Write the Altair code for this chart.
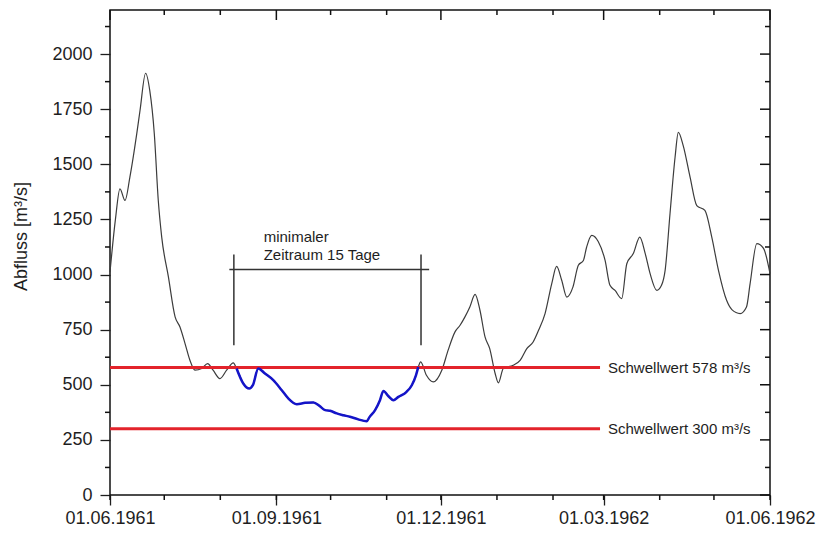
import altair as alt
import pandas as pd

START = pd.Timestamp("1961-06-01")
END = pd.Timestamp("1962-06-01")

# Daily discharge, day offset from 01.06.1961 and flow in m³/s
flow_days = [
    0, 3, 5.5, 8.3, 11, 14.8, 16.6, 19.7, 22, 24.5, 26.7, 28.6, 32.3, 36, 38.7,
    41.5, 44.2, 47, 50.7, 54, 57, 60.8, 64.5, 68.2, 70, 73.7, 77, 79, 82, 85.7,
    90.3, 95, 98.6, 103.3, 107.9, 112.5, 116, 119, 121.7, 125.4, 129, 132.7,
    137.3, 142, 143.4, 146.6, 149.3, 151.2, 154, 156.7, 159.5, 164, 166.9,
    169.2, 170.5, 171.8, 175, 178.8, 183.5, 187, 190.8, 193.6, 196.3, 199,
    201.9, 204.6, 207.4, 210, 213, 214.8, 217.5, 223, 226.8, 230.5, 234, 237,
    240.6, 244.3, 247, 249.8, 252.6, 256, 259, 261.8, 263.6, 266.4, 270,
    273.8, 276.5, 279.3, 283, 285.8, 289.4, 293, 296, 298.7, 302.4, 305, 307,
    309.7, 312.5, 314.3, 317, 320.8, 324.5, 329, 332.8, 336.5, 341, 343.9,
    348.5, 352, 354, 357.7, 361.4, 365,
]
flow_values = [
    1011, 1250, 1389, 1336, 1442, 1639, 1744, 1913, 1834, 1639, 1336, 1170, 989,
    808, 762, 687, 611, 566, 574, 596, 566, 528, 566, 599, 574, 506, 483, 498,
    574, 551, 521, 475, 438, 412, 418, 420, 403, 385, 382, 370, 362, 355, 343,
    335, 352, 385, 430, 472, 448, 430, 445, 468, 498, 543, 581, 604, 543, 513,
    566, 657, 740, 770, 808, 853, 910, 838, 717, 664, 551, 509, 574, 589, 611,
    664, 694, 747, 823, 959, 1037, 974, 898, 943, 1042, 1064, 1125, 1178, 1150,
    1064, 951, 928, 891, 1049, 1095, 1170, 1095, 1004, 928, 951, 1019, 1276,
    1532, 1645, 1585, 1442, 1313, 1291, 1170, 1019, 883, 841, 823, 853, 959,
    1140, 1119, 1004,
]

# Low-flow period below the 578 m³/s threshold
low_start_day, low_end_day = 70, 170.5

threshold_values = [578, 300]
threshold_labels = ["Schwellwert 578 m³/s", "Schwellwert 300 m³/s"]
threshold_end_day = 271

# Bracket marking the minimal duration
bracket_days = [68.5, 172]
bracket_low, bracket_high = 679, 1091
bracket_bar_value = 1023
bracket_bar_span = [66, 176.5]
note_lines = ["minimaler", "Zeitraum 15 Tage"]
note_day = 85
note_values = [1170, 1087]

# Frame tick positions: month starts along x, every 125 m³/s along y
month_offsets = [0, 30, 61, 92, 122, 153, 183, 214, 245, 273, 304, 334, 365]
month_major = [True, False, False, True, False, False, True, False, False, True, False, False, True]
flow_ticks = list(range(0, 2200, 125))

Y_MAX = 2200
PLOT_W, PLOT_H = 660, 485
MAJOR_LEN, MINOR_LEN = 10, 5          # tick lengths in pixels
DAYS_PER_PX = (END - START).days / PLOT_W
FLOW_PER_PX = Y_MAX / PLOT_H


def to_date(days):
    return START + pd.to_timedelta(pd.Series(days, dtype=float), unit="D")


flow = pd.DataFrame({"date": to_date(flow_days), "flow": flow_values, "day": flow_days})
low = flow[(flow["day"] >= low_start_day) & (flow["day"] <= low_end_day)]

thresholds = pd.DataFrame({
    "start": to_date([0, 0]),
    "end": to_date([threshold_end_day] * 2),
    "flow": threshold_values,
    "label": threshold_labels,
})
bracket_v = pd.DataFrame({"date": to_date(bracket_days), "lo": [bracket_low] * 2, "hi": [bracket_high] * 2})
bracket_h = pd.DataFrame({"start": to_date([bracket_bar_span[0]]), "end": to_date([bracket_bar_span[1]]),
                          "flow": [bracket_bar_value]})
notes = pd.DataFrame({"date": to_date([note_day] * 2), "flow": note_values, "text": note_lines})

# Tick segments along the frame: bottom/left minor outward, top/right inward
n_months = len(month_offsets)
top_len = [(MAJOR_LEN if m else MINOR_LEN) * FLOW_PER_PX for m in month_major]
x_tick_rows = pd.DataFrame({
    "date": to_date(month_offsets * 2),
    "lo": [Y_MAX - L for L in top_len] + [-MINOR_LEN * FLOW_PER_PX] * n_months,
    "hi": [Y_MAX] * n_months + [0] * n_months,
})
y_major = [v % 250 == 0 for v in flow_ticks]
left_levels = [v for v, m in zip(flow_ticks, y_major) if not m]
right_len = [MAJOR_LEN if m else MINOR_LEN for m in y_major]
y_tick_rows = pd.DataFrame({
    "flow": left_levels + flow_ticks,
    "start": to_date([-MINOR_LEN * DAYS_PER_PX] * len(left_levels)
                     + [365 - L * DAYS_PER_PX for L in right_len]),
    "end": to_date([0] * len(left_levels) + [365] * len(flow_ticks)),
})

FONT = "Liberation Sans"
INK = "#1e1e1e"

x_scale = alt.Scale(domain=[alt.DateTime(year=1961, month=6, date=1),
                            alt.DateTime(year=1962, month=6, date=1)])
y_scale = alt.Scale(domain=[0, Y_MAX], nice=False)

quarter_ticks = [alt.DateTime(year=y, month=m, date=1)
                 for y, m in [(1961, 6), (1961, 9), (1961, 12), (1962, 3), (1962, 6)]]

ax_bottom = alt.Axis(orient="bottom", values=quarter_ticks, format="%d.%m.%Y", tickSize=10,
                     tickColor=INK, tickWidth=1.3, labelFont=FONT, labelFontSize=18,
                     labelColor=INK, labelPadding=4, labelFlush=False, labelOverlap=False,
                     domain=False, grid=False, title=None)
ax_left = alt.Axis(orient="left", values=list(range(0, 2001, 250)), format="d", tickSize=10,
                   tickColor=INK, tickWidth=1.3, labelFont=FONT, labelFontSize=18,
                   labelColor=INK, labelPadding=8, domain=False, grid=False,
                   title="Abfluss [m³/s]", titleFont=FONT, titleFontSize=18,
                   titleFontWeight="normal", titleColor=INK, titleAngle=-90, titleAlign="center",
                   titleBaseline="alphabetic", titleX=-84, titleY=226)


def X(field):
    return alt.X(field, scale=x_scale, axis=ax_bottom)


def Y(field):
    return alt.Y(field, scale=y_scale, axis=ax_left)


gray = alt.Chart(flow).mark_line(color="#3c3c3c", strokeWidth=1.2, interpolate="monotone").encode(
    x=X("date:T"), y=Y("flow:Q"),
)
red = alt.Chart(thresholds).mark_rule(color="#e3232b", strokeWidth=3).encode(
    x=X("start:T"), x2="end:T", y=Y("flow:Q"),
)
red_labels = alt.Chart(thresholds).mark_text(align="left", baseline="middle", dx=8, font=FONT,
                                             fontSize=15, color=INK).encode(
    x=X("end:T"), y=Y("flow:Q"), text="label:N",
)
blue = alt.Chart(low).mark_line(color="#1414c8", strokeWidth=2.5, interpolate="monotone").encode(
    x=X("date:T"), y=Y("flow:Q"),
)
bracket_vert = alt.Chart(bracket_v).mark_rule(color="#333333", strokeWidth=1.5).encode(
    x=X("date:T"), y=Y("lo:Q"), y2="hi:Q",
)
bracket_bar = alt.Chart(bracket_h).mark_rule(color="#333333", strokeWidth=1.5).encode(
    x=X("start:T"), x2="end:T", y=Y("flow:Q"),
)
note_text = alt.Chart(notes).mark_text(align="left", baseline="middle", font=FONT, fontSize=15,
                                       color=INK).encode(
    x=X("date:T"), y=Y("flow:Q"), text="text:N",
)
x_frame_ticks = alt.Chart(x_tick_rows).mark_rule(color="#111111", strokeWidth=1.5).encode(
    x=X("date:T"), y=Y("lo:Q"), y2="hi:Q",
)
y_frame_ticks = alt.Chart(y_tick_rows).mark_rule(color="#111111", strokeWidth=1.5).encode(
    x=X("start:T"), x2="end:T", y=Y("flow:Q"),
)

chart = alt.layer(
    gray, red, red_labels, blue, bracket_vert, bracket_bar, note_text, x_frame_ticks, y_frame_ticks,
).properties(
    width=PLOT_W, height=PLOT_H,
    padding={"left": 110, "top": 10, "right": 50, "bottom": 38},
    autosize=alt.AutoSizeParams(type="none"),
    background="white",
).configure_view(stroke="#111111", strokeWidth=1.5)

chart.save("out.html", embed_options={"renderer": "svg", "actions": False})
